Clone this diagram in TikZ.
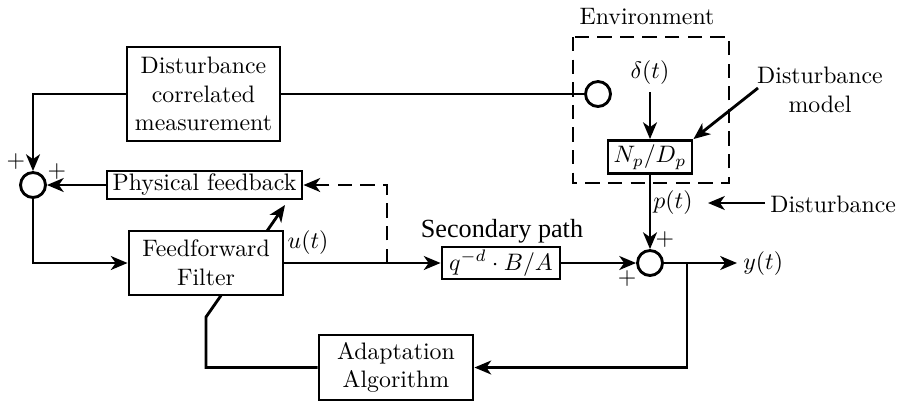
\documentclass[tikz,border=0pt]{standalone}
\usepackage{fontspec}
\newfontfamily\timesfont{Liberation Serif}
\usetikzlibrary{arrows.meta}
\begin{document}
\begin{tikzpicture}[x=0.42pt,y=-0.42pt,
  line width=1.2pt,
  block/.style={draw,line width=1.2pt,inner sep=2pt,align=center},
  sumnode/.style={draw,circle,line width=1.2pt,minimum size=25*0.42pt,inner sep=0pt},
  arr/.style={-{Stealth[length=7pt,width=5.8pt,inset=2pt]}},
  dsh/.style={dashed,dash pattern=on 6pt off 3.5pt},
  lbl/.style={inner sep=0pt,align=center}]
\useasboundingbox (0,0) rectangle (897,402);
% blocks
\node[block,minimum width=153*0.42pt,minimum height=94*0.42pt] (dcm) at (203.5,94) {Disturbance\\correlated\\measurement};
\node[block,minimum width=195*0.42pt,minimum height=28*0.42pt,inner sep=1pt] (pf) at (204.5,185) {Physical feedback};
\node[block,minimum width=154*0.42pt,minimum height=64*0.42pt] (ff) at (206,263) {Feedforward\\Filter};
\node[block,minimum width=118*0.42pt,minimum height=32*0.42pt,inner sep=1pt] (sp) at (501,263) {$q^{-d}\cdot B/A$};
\node[block,minimum width=154*0.42pt,minimum height=65*0.42pt] (aa) at (396,367.5) {Adaptation\\Algorithm};
\node[block,minimum width=84*0.42pt,minimum height=33*0.42pt,inner sep=1pt] (np) at (650,157) {$N_p/D_p$};
\node[sumnode] (s1) at (33,185) {};
\node[sumnode] (s2) at (650,263) {};
\node[sumnode] (meas) at (598,94) {};
% environment
\draw[dsh] (573,37) rectangle (729,183);
\node[lbl] (env) at (647,17) {Environment};
\node[lbl] (delta) at (650,73) {$\delta(t)$};
\node[lbl] (dm) at (820,90) {Disturbance\\model};
\node[lbl] (pt) at (673,203) {$p(t)$};
\node[lbl,anchor=west] (dist) at (769,204) {Disturbance};
\node[lbl,anchor=west] (yt) at (742,264) {$y(t)$};
\node[lbl] (ut) at (308,243) {$u(t)$};
\node[lbl] (spl) at (502,231) {\timesfont\fontsize{11}{13}\selectfont Secondary path};
\node[lbl] (p1) at (16,162) {$+$};
\node[lbl] (p2) at (57,172) {$+$};
\node[lbl] (p3) at (665,240) {$+$};
\node[lbl] (p4) at (627,279) {$+$};
% coordinates
\coordinate (dmtail) at (758,88);
\coordinate (disttail) at (765,203);
\coordinate (ptip) at (708,203);
\coordinate (ytip) at (737,263);
\coordinate (br) at (687,263);
\coordinate (tap) at (387,263);
\coordinate (pfarr) at (285,205);
\coordinate (ffout) at (267,231);
\coordinate (k1) at (206,317);
\coordinate (k2) at (221,295.5);
% connectors
\draw (dcm.east) -- (meas.west);
\draw[arr] (dcm.west) -| (s1.north);
\draw[arr] (pf.west) -- (s1.east);
\draw[arr] (s1.south) |- (ff.west);
\draw[arr] (ff.east) -- (sp.west);
\draw[arr,dsh] (tap) |- (pf.east);
\draw[arr] (ffout) -- (pfarr);
\draw[arr] (sp.east) -- (s2.west);
\draw[arr] (delta.south) ++(0,6) -- (np.north);
\draw[arr] (dmtail) -- (np.north east);
\draw[arr] (np.south) -- (s2.north);
\draw[arr] (disttail) -- (ptip);
\draw[arr] (s2.east) -- (ytip);
\draw[arr] (br) |- (aa.east);
\draw (aa.west) -| (k1) -- (k2);
\end{tikzpicture}
\end{document}
